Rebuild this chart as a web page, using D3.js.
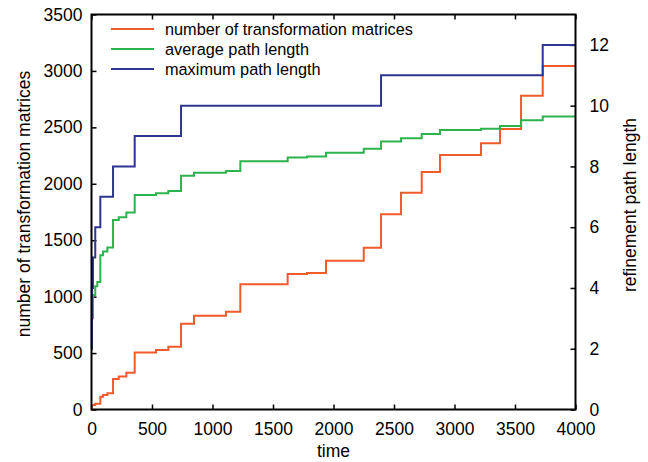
<!DOCTYPE html>
<html>
<head>
<meta charset="utf-8">
<script src="https://cdn.jsdelivr.net/npm/d3@7"></script>
<style>
  body { margin: 0; background: #fff; }
  svg text { font-family: "Liberation Sans", Arial, Helvetica, sans-serif; fill: #000; }
  .axis text { font-size: 17.5px; }
  .axis .domain { display: none; }
  .axis .tick line { stroke: #000; stroke-width: 1.5; }
  .legend text { font-size: 16.3px; }
  .title { font-size: 17.5px; }
</style>
</head>
<body>
<div id="chart"></div>
<script>
// step times (the value holds until the next time)
const times = [0, 3, 12, 31, 48, 73, 95, 131, 178, 225, 288, 357, 533, 635, 740, 847,
  1111, 1230, 1621, 1781, 1938, 2250, 2393, 2558, 2729, 2880, 3219, 3376, 3550, 3729, 4000];

const matrices = [0, 40, 40, 50, 50, 113, 128, 143, 270, 292, 326, 505, 527, 557, 760, 830,
  867, 1109, 1200, 1209, 1319, 1434, 1730, 1921, 2104, 2255, 2359, 2485, 2780, 3043, 3043];

const avgPath = [2, 3.0, 3.77, 4.06, 4.2, 5.08, 5.2, 5.33, 6.24, 6.33, 6.48, 7.06, 7.12, 7.19, 7.69, 7.79,
  7.85, 8.17, 8.29, 8.33, 8.45, 8.58, 8.82, 8.93, 9.07, 9.2, 9.24, 9.33, 9.52, 9.64, 9.64];

const maxPath = [2, 4, 5, 6, 6, 7, 7, 7, 8, 8, 8, 9, 9, 9, 10, 10,
  10, 10, 10, 10, 10, 10, 11, 11, 11, 11, 11, 11, 11, 12, 12];

const xTicks = [0, 500, 1000, 1500, 2000, 2500, 3000, 3500, 4000];
const leftTicks = [0, 500, 1000, 1500, 2000, 2500, 3000, 3500];
const rightTicks = [0, 2, 4, 6, 8, 10, 12];

const seriesNames = ["number of transformation matrices", "average path length", "maximum path length"];
const colours = ["#f15a2b", "#2db34b", "#2e3492"];

const width = 648, height = 462;
const margin = { top: 14.5, right: 72.5, bottom: 52.5, left: 91.5 };

const svg = d3.select("#chart").append("svg")
  .attr("width", width)
  .attr("height", height);

const x = d3.scaleLinear().domain([0, 4000]).range([margin.left, width - margin.right]);
const yL = d3.scaleLinear().domain([0, 3500]).range([height - margin.bottom, margin.top]);
const yR = d3.scaleLinear().domain([0, 13]).range([height - margin.bottom, margin.top]);

// axes, ticks pointing inward
svg.append("g")
  .attr("class", "axis")
  .attr("transform", `translate(0, ${yL(0)})`)
  .call(d3.axisBottom(x).tickValues(xTicks).tickSize(-5).tickPadding(13).tickFormat(d3.format("d")));

svg.append("g")
  .attr("class", "axis")
  .attr("transform", `translate(0, ${margin.top})`)
  .call(d3.axisTop(x).tickValues(xTicks).tickSize(-5).tickFormat(""));

svg.append("g")
  .attr("class", "axis")
  .attr("transform", `translate(${x(0)}, 0)`)
  .call(d3.axisLeft(yL).tickValues(leftTicks).tickSize(-5).tickPadding(9).tickFormat(d3.format("d")));

svg.append("g")
  .attr("class", "axis")
  .attr("transform", `translate(${x(4000)}, 0)`)
  .call(d3.axisRight(yR).tickValues(rightTicks).tickSize(-5).tickPadding(14).tickFormat(d3.format("d")));

// lines
const data = times.map((t, i) => ({ t: t, m: matrices[i], a: avgPath[i], p: maxPath[i] }));

const lineM = d3.line().curve(d3.curveStepAfter).x(d => x(d.t)).y(d => yL(d.m));
const lineA = d3.line().curve(d3.curveStepAfter).x(d => x(d.t)).y(d => yR(d.a));
const lineP = d3.line().curve(d3.curveStepAfter).x(d => x(d.t)).y(d => yR(d.p));

[lineM, lineA, lineP].forEach((ln, i) => {
  svg.append("path")
    .datum(data)
    .attr("d", ln)
    .attr("fill", "none")
    .attr("stroke", colours[i])
    .attr("stroke-width", 2);
});

// frame
svg.append("rect")
  .attr("x", x(0))
  .attr("y", margin.top)
  .attr("width", x(4000) - x(0))
  .attr("height", yL(0) - margin.top)
  .attr("fill", "none")
  .attr("stroke", "#000")
  .attr("stroke-width", 2);

// legend
const legend = svg.append("g").attr("class", "legend");
seriesNames.forEach((name, i) => {
  const ly = 29 + i * 20;
  legend.append("line")
    .attr("x1", 111).attr("x2", 154)
    .attr("y1", ly).attr("y2", ly)
    .attr("stroke", colours[i])
    .attr("stroke-width", 2);
  legend.append("text")
    .attr("x", 165)
    .attr("y", ly)
    .attr("dy", "0.35em")
    .text(name);
});

// axis titles
svg.append("text")
  .attr("class", "title")
  .attr("x", (x(0) + x(4000)) / 2)
  .attr("y", 457)
  .style("text-anchor", "middle")
  .text("time");

svg.append("text")
  .attr("class", "title")
  .attr("transform", `translate(30, 204) rotate(-90)`)
  .style("text-anchor", "middle")
  .text("number of transformation matrices");

svg.append("text")
  .attr("class", "title")
  .attr("transform", `translate(636, 205) rotate(-90)`)
  .style("text-anchor", "middle")
  .text("refinement path length");
</script>
</body>
</html>
